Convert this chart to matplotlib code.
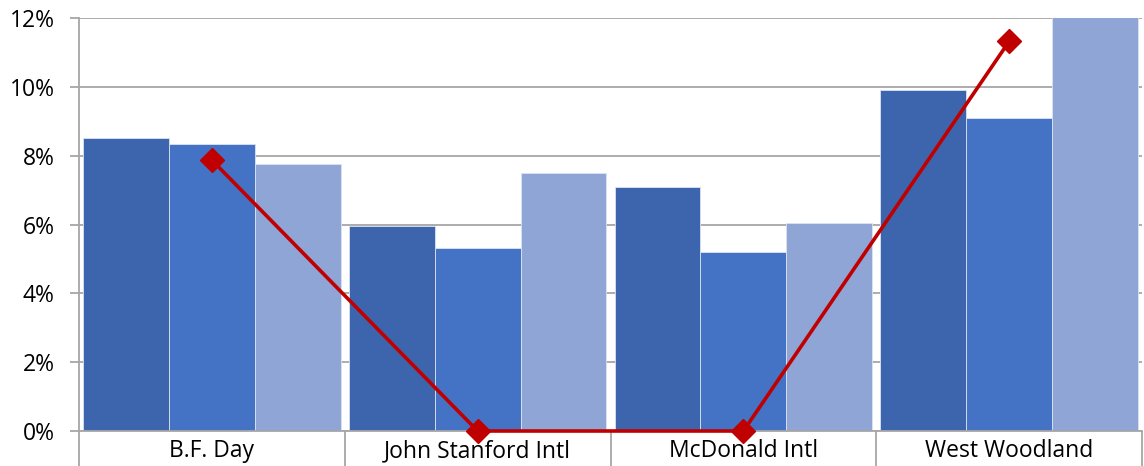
import matplotlib
matplotlib.use("Agg")
import matplotlib.pyplot as plt
import numpy as np
from matplotlib.ticker import FixedLocator, FuncFormatter

categories = ["B.F. Day", "John Stanford Intl", "McDonald Intl", "West Woodland"]
series_a = [8.5, 5.97, 7.1, 9.9]
series_b = [8.33, 5.33, 5.2, 9.08]
series_c = [7.75, 7.5, 6.05, 12.4]
line_vals = [7.87, 0.0, 0.0, 11.32]
yticks = [0, 2, 4, 6, 8, 10, 12]

colors = ["#3D65AD", "#4472C4", "#8FA5D5"]
line_color = "#C00000"
grid_color = "#A6A6A6"

plt.rcParams['font.family'] = ['Open Sans', 'DejaVu Sans']

fig = plt.figure(figsize=(11.44, 4.66), dpi=100)
ax = fig.add_axes([79/1144, 1-431/466, (1142-79)/1144, (431-18)/466])

x = np.arange(len(categories))
w = 0.323
for i, (vals, c) in enumerate(zip([series_a, series_b, series_c], colors)):
    ax.bar(x + (i - 1) * w, vals, width=w, color=c, edgecolor="#DCE3F2", linewidth=0.6, zorder=2)

ax.plot(x, line_vals, color=line_color, linewidth=2.6, marker="D", markersize=12.5,
        zorder=4, clip_on=False)

ax.set_xlim(-0.5, 3.5)
ax.set_ylim(0, 12)
ax.yaxis.set_major_locator(FixedLocator(yticks))
ax.yaxis.set_major_formatter(FuncFormatter(lambda v, p: f"{int(v)}%"))
ax.grid(axis="y", color=grid_color, linewidth=1.3, zorder=0)
ax.set_axisbelow(True)

ax.set_xticks(x)
ax.set_xticklabels(categories)
ax.set_xticks(np.arange(-0.5, 4.0, 1.0), minor=True)
ax.tick_params(axis="x", which="major", length=0, pad=6, labelsize=16.5, colors="black")
ax.tick_params(axis="x", which="minor", length=26, width=1.3, color=grid_color, direction="out")
ax.tick_params(axis="y", length=6.5, width=1.3, color=grid_color, labelsize=16.5, pad=11)

for s in ["top", "right"]:
    ax.spines[s].set_visible(False)
for s in ["left", "bottom"]:
    ax.spines[s].set_color(grid_color)
    ax.spines[s].set_linewidth(1.3)

fig.savefig("out.png", dpi=100)
